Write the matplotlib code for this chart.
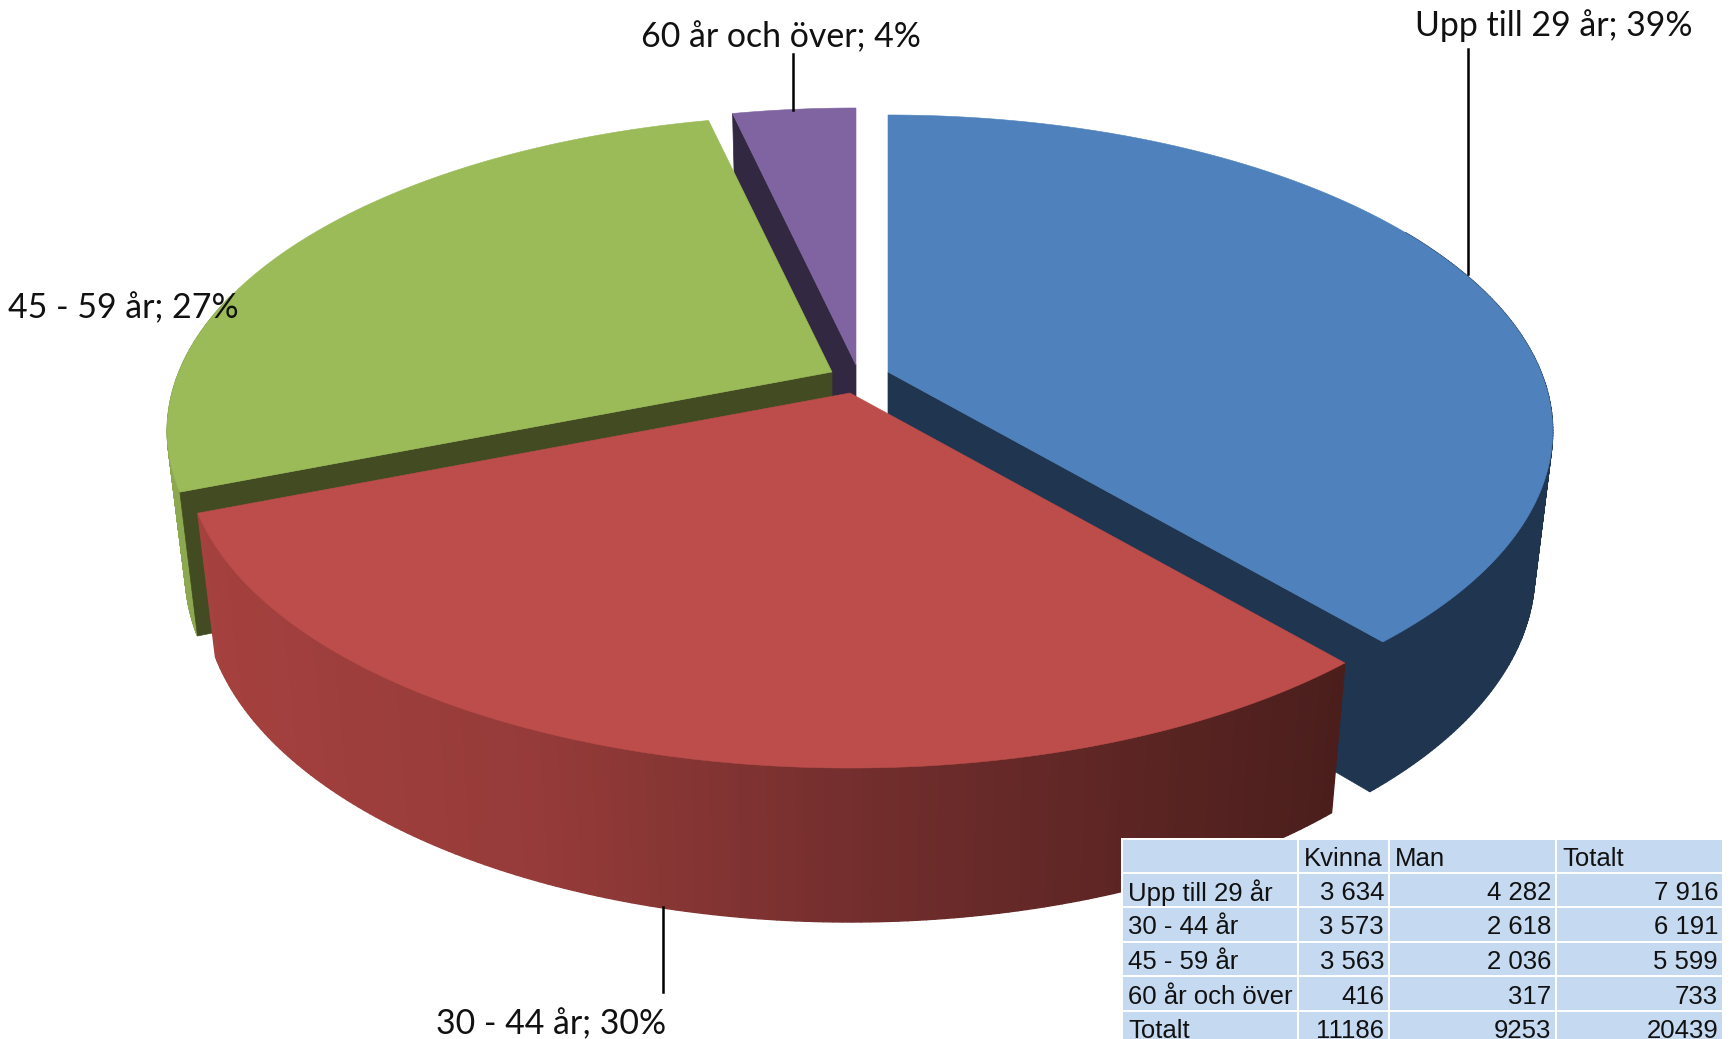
import numpy as np
import matplotlib
matplotlib.use("Agg")
import matplotlib.pyplot as plt
from matplotlib.colors import LinearSegmentedColormap
from matplotlib.patches import Polygon, Rectangle

# data
groups = ["Upp till 29 år", "30 - 44 år", "45 - 59 år", "60 år och över"]
kvinna = ["3 634", "3 573", "3 563", "416"]
man = ["4 282", "2 618", "2 036", "317"]
totalt = ["7 916", "6 191", "5 599", "733"]
totals = [7916, 6191, 5599, 733]
table_head = ["", "Kvinna", "Man", "Totalt"]
table_sum = ["Totalt", "11186", "9253", "20439"]

# perspective of the pie, in pixels
A, B, K = 653, 305, 0.1867
DEPTH, FX, FY = 139, 0.973, 1.04
apex = [(888, 372), (850, 393), (832, 372), (856, 365)]
top_col = ["#4F81BD", "#BC4D4A", "#9BBB59", "#8064A2"]
cut_col = ["#1F3550", "#4E1F1D", "#434B22", "#332842"]
wall_col = ["#1F3550", None, "#8CA950", "#332842"]

fig = plt.figure(figsize=(17.34, 10.39), dpi=100)
ax = fig.add_axes([0, 0, 1, 1])
ax.set_xlim(0, 1734)
ax.set_ylim(1039, 0)
ax.axis("off")


def rim(theta, c, bottom=False):
    th = np.radians(theta)
    u, v = np.sin(th), -np.cos(th)
    s = 1 / (1 - K * v)
    if bottom:
        return np.column_stack([c[0] + FX * A * u * s, c[1] + DEPTH + FY * B * v * s])
    return np.column_stack([c[0] + A * u * s, c[1] + B * v * s])


def low(c):
    return [c[0], c[1] + DEPTH]


share = np.array(totals) / sum(totals) * 360
edges = np.concatenate([[0], np.cumsum(share)])
spans = list(zip(edges[:-1], edges[1:]))
wall_span = [(60, spans[0][1]), spans[1], (spans[2][0], 285), None]
cut_angle = [spans[0][1], None, spans[2][0], spans[3][0]]

red_cmap = LinearSegmentedColormap.from_list(
    "red_wall", [(0, "#A5413F"), (0.3, "#953B39"), (0.6, "#702D2C"), (1, "#4A1E1C")]
)

# back to front: purple, green, blue, red
for i in [3, 2, 0, 1]:
    c = apex[i]
    a0, a1 = spans[i]
    if wall_span[i] is not None:
        # wall as strips so the silhouette between the two rims gets filled
        w0, w1 = wall_span[i]
        th = np.linspace(w0, w1, 160)
        xmin, xmax = rim(w1, c)[0][0], rim(w0, c)[0][0]
        for t0, t1 in zip(th[:-1], th[1:]):
            pts = np.vstack([rim(np.array([t0, t1]), c), rim(np.array([t1, t0]), c, True)])
            if wall_col[i] is None:
                col = red_cmap((pts[:, 0].mean() - xmin) / (xmax - xmin))
            else:
                col = wall_col[i]
            ax.add_patch(Polygon(pts, fc=col, ec=col, lw=1.0, zorder=1))
    if cut_angle[i] is not None:
        p_top = rim(cut_angle[i], c)[0]
        p_low = rim(cut_angle[i], c, True)[0]
        ax.add_patch(Polygon([c, p_top, p_low, low(c)], fc=cut_col[i], ec=cut_col[i], lw=0.5, zorder=1))
    th = np.linspace(a0, a1, 150)
    pts = np.vstack([[c], rim(th, c)])
    ax.add_patch(Polygon(pts, fc=top_col[i], ec=top_col[i], lw=0.4, zorder=1))

# labels and leader lines
pct = [round(t / sum(totals) * 100) for t in totals]
label_pos = [(1554, 26), (551, 1024), (123, 308), (781, 37)]
for g, p, pos in zip(groups, pct, label_pos):
    ax.text(pos[0], pos[1], f"{g}; {p}%", ha="center", va="center", fontsize=24.4,
            family=["Lato", "DejaVu Sans"], color="#111111", zorder=5)
ax.plot([1468, 1468], [49, 274], color="black", lw=1.8, zorder=4)
ax.plot([793, 793], [54, 110], color="black", lw=1.8, zorder=4)
ax.plot([663, 663], [907, 992], color="black", lw=1.8, zorder=4)

# table
col_x = [1123, 1299, 1390, 1557, 1724]
row_y = [840, 874, 908, 943, 977, 1012, 1046]
rows = [table_head] + [[g, k, m, t] for g, k, m, t in zip(groups, kvinna, man, totalt)] + [table_sum]
ax.add_patch(Rectangle((1121, 838), 606, 201, fc="white", ec="none", zorder=6))
for r, row in enumerate(rows):
    for j, val in enumerate(row):
        x0, x1 = col_x[j], col_x[j + 1]
        y0, y1 = row_y[r], row_y[r + 1]
        ax.add_patch(Rectangle((x0, y0), x1 - x0 - 2, y1 - y0 - 2, fc="#C5D9F1", ec="none", zorder=7))
        if r == 0 or j == 0:
            tx, ha = x0 + 5, "left"
        else:
            tx, ha = x1 - 6, "right"
        ax.text(tx, (y0 + y1) / 2 + 2, val, ha=ha, va="center", fontsize=18.5,
                family="Liberation Sans", color="#111111", zorder=8, clip_on=True)

fig.savefig("out.png", dpi=100)
